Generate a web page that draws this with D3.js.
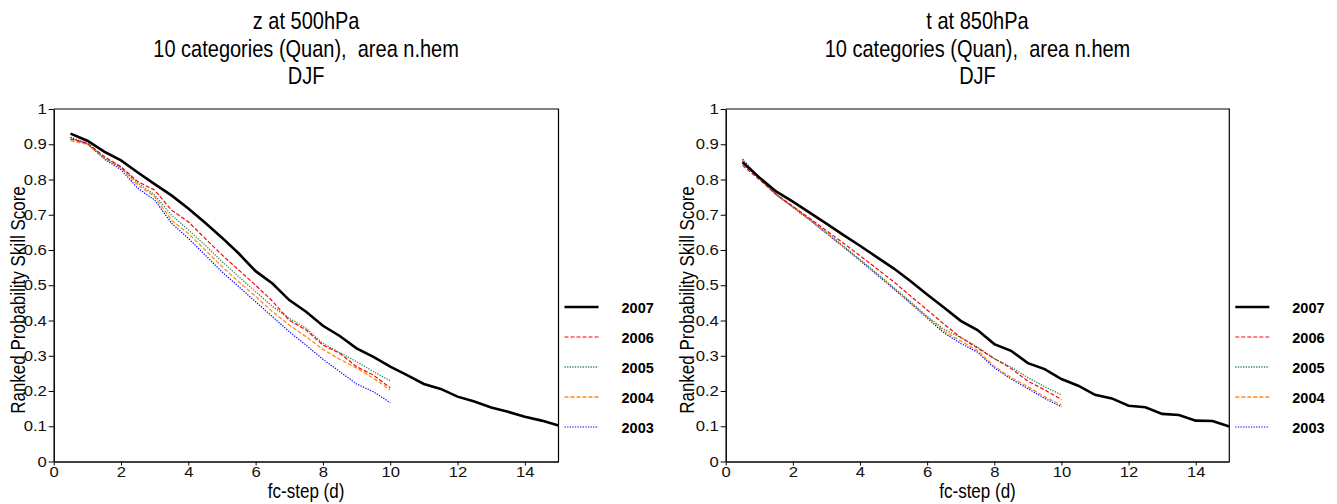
<!DOCTYPE html>
<meta charset="utf-8">
<html>

<head>
    <script src="https://d3js.org/d3.v7.min.js"></script>
    <style>
        body { margin: 0; background: #fff; }
        text { font-family: "Liberation Sans", Arial, sans-serif; white-space: pre; }
    </style>
</head>

<body>
    <div id="chart"></div>

    <script>
        // forecast steps (days)
        const stepsLong = [0.5, 1, 1.5, 2, 2.5, 3, 3.5, 4, 4.5, 5, 5.5, 6, 6.5, 7, 7.5, 8, 8.5, 9, 9.5, 10,
            10.5, 11, 11.5, 12, 12.5, 13, 13.5, 14, 14.5, 15];
        const stepsShort = [0.5, 1, 1.5, 2, 2.5, 3, 3.5, 4, 4.5, 5, 5.5, 6, 6.5, 7, 7.5, 8, 8.5, 9, 9.5, 10];

        const years = ["2007", "2006", "2005", "2004", "2003"];
        const xTicks = [0, 2, 4, 6, 8, 10, 12, 14];
        const yTicks = [0, 0.1, 0.2, 0.3, 0.4, 0.5, 0.6, 0.7, 0.8, 0.9, 1];

        // z at 500hPa
        const z500_2007 = [0.930, 0.910, 0.879, 0.854, 0.820, 0.787, 0.755, 0.718, 0.677, 0.635, 0.590, 0.540, 0.505, 0.458, 0.425,
            0.385, 0.356, 0.321, 0.297, 0.269, 0.245, 0.220, 0.206, 0.184, 0.170, 0.153, 0.141, 0.127, 0.116, 0.102];
        const z500_2006 = [0.915, 0.903, 0.865, 0.836, 0.794, 0.770, 0.713, 0.680, 0.633, 0.586, 0.543, 0.500, 0.455, 0.401, 0.373,
            0.330, 0.307, 0.269, 0.245, 0.209];
        const z500_2005 = [0.915, 0.902, 0.862, 0.835, 0.790, 0.756, 0.699, 0.657, 0.614, 0.567, 0.524, 0.482, 0.440, 0.406, 0.378,
            0.335, 0.309, 0.283, 0.255, 0.229];
        const z500_2004 = [0.910, 0.900, 0.860, 0.833, 0.784, 0.751, 0.685, 0.647, 0.600, 0.553, 0.510, 0.468, 0.425, 0.387, 0.354,
            0.318, 0.290, 0.265, 0.236, 0.203];
        const z500_2003 = [0.920, 0.902, 0.858, 0.828, 0.775, 0.742, 0.676, 0.633, 0.586, 0.538, 0.496, 0.453, 0.411, 0.368, 0.330,
            0.290, 0.255, 0.220, 0.198, 0.167];

        // t at 850hPa
        const t850_2007 = [0.849, 0.806, 0.766, 0.737, 0.706, 0.675, 0.643, 0.612, 0.580, 0.548, 0.512, 0.474, 0.437, 0.399, 0.373,
            0.333, 0.314, 0.279, 0.262, 0.234, 0.215, 0.189, 0.179, 0.158, 0.154, 0.135, 0.132, 0.116, 0.115, 0.099];
        const t850_2006 = [0.840, 0.800, 0.758, 0.724, 0.690, 0.655, 0.620, 0.584, 0.547, 0.510, 0.470, 0.430, 0.390, 0.352, 0.322,
            0.292, 0.264, 0.228, 0.203, 0.176];
        const t850_2005 = [0.852, 0.803, 0.758, 0.723, 0.687, 0.650, 0.612, 0.573, 0.534, 0.494, 0.453, 0.412, 0.375, 0.352, 0.325,
            0.292, 0.268, 0.238, 0.212, 0.189];
        const t850_2004 = [0.855, 0.804, 0.757, 0.722, 0.686, 0.648, 0.610, 0.571, 0.532, 0.492, 0.451, 0.410, 0.370, 0.342, 0.315,
            0.270, 0.238, 0.212, 0.184, 0.160];
        const t850_2003 = [0.858, 0.805, 0.757, 0.721, 0.685, 0.647, 0.609, 0.570, 0.530, 0.490, 0.449, 0.407, 0.365, 0.335, 0.310,
            0.266, 0.234, 0.207, 0.179, 0.155];

        const styles = {
            "2007": { color: "#000000", width: 2.6, dash: null },
            "2006": { color: "#ff0000", width: 1.2, dash: "4,2" },
            "2005": { color: "#2e8b57", width: 1.3, dash: "1.3,1.3" },
            "2004": { color: "#ff8c1a", width: 1.3, dash: "4,2" },
            "2003": { color: "#0000ff", width: 1.2, dash: "1.3,1.3" }
        };

        const panels = [
            {
                left: 53.7, right: 558.5, ylabX: 25,
                title: ["z at 500hPa", "10 categories (Quan),  area n.hem", "DJF"],
                series: [z500_2007, z500_2006, z500_2005, z500_2004, z500_2003]
            },
            {
                left: 725.7, right: 1229.3, ylabX: 693.5,
                title: ["t at 850hPa", "10 categories (Quan),  area n.hem", "DJF"],
                series: [t850_2007, t850_2006, t850_2005, t850_2004, t850_2003]
            }
        ];

        const plotTop = 109, plotBottom = 461.5;

        const svg = d3.select("#chart").append("svg")
            .attr("width", 1337)
            .attr("height", 504);

        panels.forEach(function (p) {
            const x = d3.scaleLinear().domain([0, 15]).range([p.left, p.right]);
            const y = d3.scaleLinear().domain([0, 1]).range([plotBottom, plotTop]);
            const cx = (p.left + p.right) / 2;

            // title, three lines (narrow-looking: stretched vertically)
            svg.append("g").selectAll("text").data(p.title).enter().append("text")
                .attr("transform", (d, i) => `translate(${cx},${29 + i * 27.5}) scale(1,1.22)`)
                .attr("text-anchor", "middle")
                .style("font-size", "20px")
                .text(d => d);

            // frame (top and right)
            svg.append("path")
                .attr("d", `M${p.left},${plotTop}H${p.right}V${plotBottom}`)
                .attr("fill", "none")
                .attr("stroke", "#000")
                .attr("stroke-width", 1.2);

            // lines
            const line = d3.line()
                .x(d => x(d[0]))
                .y(d => y(d[1]));

            // draw older years first so 2007 sits on top
            for (let i = years.length - 1; i >= 0; i--) {
                const vals = p.series[i];
                const steps = vals.length === stepsLong.length ? stepsLong : stepsShort;
                const st = styles[years[i]];
                svg.append("path")
                    .datum(steps.map((s, k) => [s, vals[k]]))
                    .attr("d", line)
                    .attr("fill", "none")
                    .attr("stroke", st.color)
                    .attr("stroke-width", st.width)
                    .attr("stroke-dasharray", st.dash);
            }

            // X axis
            const gx = svg.append("g")
                .attr("transform", `translate(0,${plotBottom})`)
                .call(d3.axisBottom(x).tickValues(xTicks).tickSize(4).tickPadding(1).tickSizeOuter(0));
            gx.select(".domain").attr("stroke-width", 1.5);
            gx.selectAll("text").style("font-size", "14.5px").attr("fill", "#111")
                .attr("font-family", null).attr("transform", "scale(1.15,1)");

            // Y axis
            const gy = svg.append("g")
                .attr("transform", `translate(${p.left},0)`)
                .call(d3.axisLeft(y).tickValues(yTicks).tickSize(5).tickPadding(1).tickSizeOuter(0)
                    .tickFormat(d => (d === 0 || d === 1) ? d : d.toFixed(1)));
            gy.select(".domain").attr("stroke-width", 1.5);
            gy.selectAll("text").style("font-size", "14.5px").attr("fill", "#111")
                .attr("font-family", null).attr("transform", "scale(1.15,1)");

            // axis titles
            svg.append("text")
                .attr("transform", `translate(${cx},498) scale(1,1.22)`)
                .attr("text-anchor", "middle")
                .style("font-size", "17px")
                .text("fc-step (d)");

            svg.append("text")
                .attr("transform", `translate(${p.ylabX},300) rotate(-90) scale(1,1.22)`)
                .attr("text-anchor", "middle")
                .style("font-size", "17px")
                .text("Ranked Probability Skill Score");

            // legend
            const legend = svg.append("g").selectAll("g").data(years).enter().append("g")
                .attr("transform", (d, i) => `translate(${p.right + 6},${307 + i * 30})`);

            legend.append("line")
                .attr("x1", 0).attr("x2", 34)
                .attr("stroke", d => styles[d].color)
                .attr("stroke-width", d => styles[d].width)
                .attr("stroke-dasharray", d => styles[d].dash);

            legend.append("text")
                .attr("x", 57)
                .attr("y", 5.5)
                .style("font-size", "14.5px")
                .style("font-weight", "bold")
                .text(d => d);
        });
    </script>
</body>

</html>
